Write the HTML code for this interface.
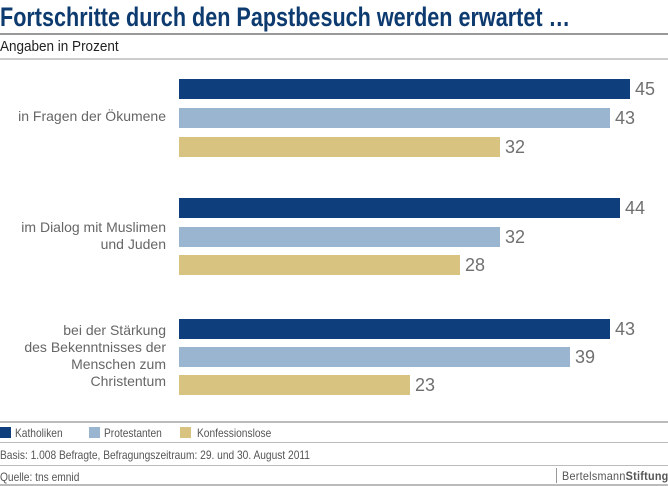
<!DOCTYPE html>
<html><head><meta charset="utf-8"><style>
*{margin:0;padding:0}
body{width:668px;height:486px;background:#fff;position:relative;overflow:hidden;font-family:"Liberation Sans",sans-serif}
.a{position:absolute;white-space:nowrap}
.t{left:0;top:2px;font-size:27px;font-weight:bold;color:#0d3b70;transform:scaleX(.8);transform-origin:left top}
.hl{position:absolute;left:0;width:668px;background:#aaa;height:1px}
.s{font-size:15px;color:#222;transform:scaleX(.9);transform-origin:left top}
.lab{position:absolute;right:502px;text-align:right;font-size:14px;line-height:17px;color:#666;white-space:nowrap}
.b{position:absolute;left:179px;height:20px}
.k{background:#0f3e7c}.p{background:#9ab5cf}.c{background:#d9c381}
.v{position:absolute;font-size:18px;color:#707070}
.f{font-size:12px;color:#555;transform:scaleX(.85);transform-origin:left top}
.sq{position:absolute;width:11px;height:11px;top:427px}
</style></head><body>
<div class="a t">Fortschritte durch den Papstbesuch werden erwartet …</div>
<div class="hl" style="top:33px;height:2px;background:#999"></div>
<div class="a s" style="left:0;top:38px">Angaben in Prozent</div>
<div class="hl" style="top:58px;height:2px;background:#ccc"></div>

<div class="lab" style="top:108px">in Fragen der Ökumene</div>
<div class="lab" style="top:219px">im Dialog mit Muslimen<br>und Juden</div>
<div class="lab" style="top:322px">bei der Stärkung<br>des Bekenntnisses der<br>Menschen zum<br>Christentum</div>

<div class="b k" style="top:79px;width:451px"></div><div class="v" style="left:635px;top:79px">45</div>
<div class="b p" style="top:108px;width:431px"></div><div class="v" style="left:615px;top:108px">43</div>
<div class="b c" style="top:137px;width:321px"></div><div class="v" style="left:505px;top:137px">32</div>

<div class="b k" style="top:198px;width:441px"></div><div class="v" style="left:625px;top:198px">44</div>
<div class="b p" style="top:227px;width:321px"></div><div class="v" style="left:505px;top:227px">32</div>
<div class="b c" style="top:255px;width:281px"></div><div class="v" style="left:465px;top:255px">28</div>

<div class="b k" style="top:319px;width:431px"></div><div class="v" style="left:615px;top:319px">43</div>
<div class="b p" style="top:347px;width:391px"></div><div class="v" style="left:575px;top:347px">39</div>
<div class="b c" style="top:375px;width:231px"></div><div class="v" style="left:415px;top:375px">23</div>

<div class="hl" style="top:421px;height:2px;background:#bbb"></div>
<div class="sq k" style="left:0"></div><div class="a f" style="left:15px;top:426px">Katholiken</div>
<div class="sq p" style="left:89px"></div><div class="a f" style="left:104px;top:426px">Protestanten</div>
<div class="sq c" style="left:180px"></div><div class="a f" style="left:197px;top:426px">Konfessionslose</div>
<div class="hl" style="top:442px;background:#bbb"></div>
<div class="a f" style="left:0;top:448px">Basis: 1.008 Befragte, Befragungszeitraum: 29. und 30. August 2011</div>
<div class="hl" style="top:465px;background:#bbb"></div>
<div class="a f" style="left:0;top:470px">Quelle: tns emnid</div>
<div style="position:absolute;left:556px;top:468px;width:1px;height:15px;background:#999"></div>
<div class="a" style="left:562px;top:469px;font-size:12px;color:#555;letter-spacing:.3px;transform:scaleX(.9);transform-origin:left top">Bertelsmann<b>Stiftung</b></div>
<div class="hl" style="top:484px;height:2px;background:#bbb"></div>
</body></html>
